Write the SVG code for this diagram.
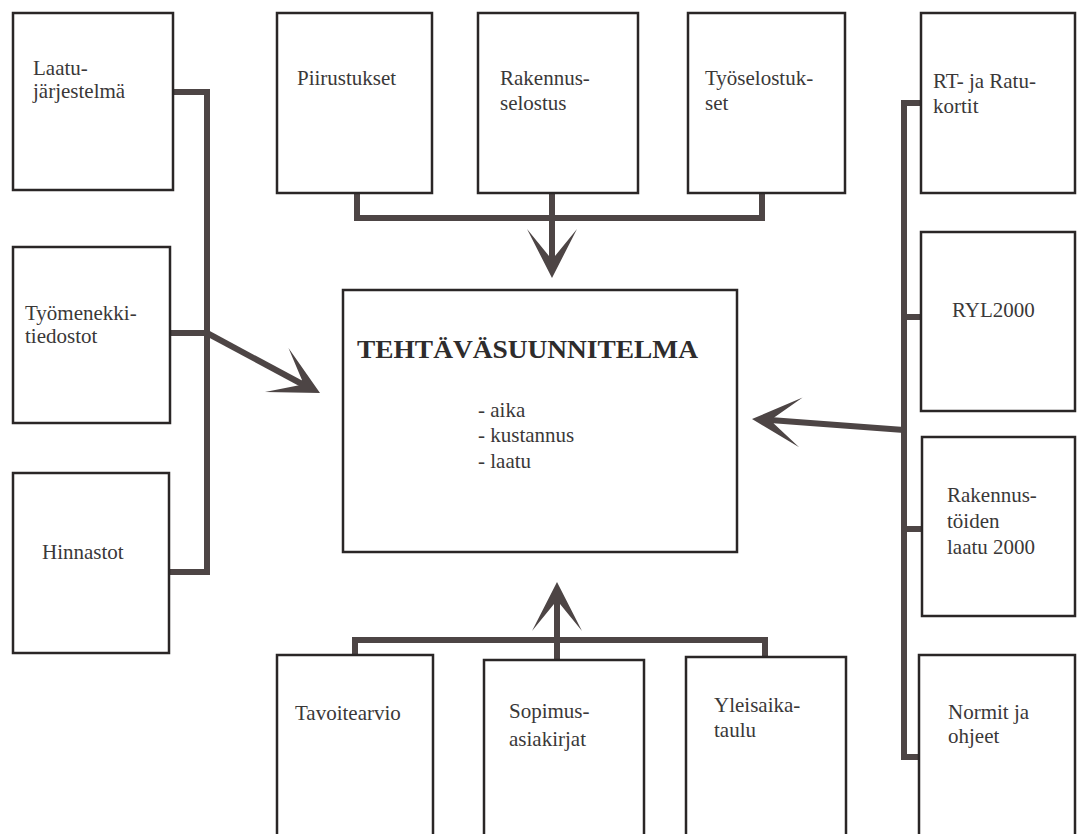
<svg xmlns="http://www.w3.org/2000/svg" width="1078" height="834" viewBox="0 0 1078 834">
<style>
.box{fill:#ffffff;stroke:#2a2626;stroke-width:2.5}
text{font-family:'Liberation Serif','DejaVu Serif',serif}
.t{font-size:21px;fill:#3a3838}
.title{font-size:26px;font-weight:bold;fill:#2e2c2c}
.c{fill:none;stroke:#4d4545;stroke-width:6;stroke-linejoin:miter;stroke-linecap:butt}
.ah{fill:#4d4545}
</style>
<defs>
<polygon id="head" points="0,0 -49,-25 -22,-3 -22,3 -49,25"/>
</defs>
<rect width="1078" height="834" fill="#ffffff"/>
<g id="connectors">
<polyline class="c" points="173,92 207,92 207,572 169,572"/>
<line class="c" x1="170" y1="333" x2="207" y2="333"/>
<line class="c" x1="207" y1="333" x2="302" y2="384"/>
<use href="#head" class="ah" transform="translate(320,393) rotate(28)"/>
<polyline class="c" points="357,193 357,218 762,218 762,193"/>
<line class="c" x1="552" y1="193" x2="552" y2="262"/>
<use href="#head" class="ah" transform="translate(552,278) rotate(90)"/>
<polyline class="c" points="921,103 904,103 904,757 921,757"/>
<line class="c" x1="904" y1="317" x2="921" y2="317"/>
<line class="c" x1="904" y1="529" x2="921" y2="529"/>
<line class="c" x1="904" y1="430" x2="770" y2="420"/>
<use href="#head" class="ah" transform="translate(752,419) rotate(184)"/>
<polyline class="c" points="355,655 355,640 765,640 765,657"/>
<line class="c" x1="557" y1="660" x2="557" y2="598"/>
<use href="#head" class="ah" transform="translate(557,582) rotate(-90)"/>
</g>
<g id="n-laatu"><rect class="box" x="13" y="13" width="160" height="177"/>
<text class="t" x="33" y="75">Laatu-</text><text class="t" x="33" y="98">järjestelmä</text></g>
<g id="n-tyomenekki"><rect class="box" x="13" y="247" width="157" height="176"/>
<text class="t" x="25" y="320">Työmenekki-</text><text class="t" x="25" y="343">tiedostot</text></g>
<g id="n-hinnastot"><rect class="box" x="13" y="473" width="156" height="180"/>
<text class="t" x="42" y="559">Hinnastot</text></g>
<g id="n-piirustukset"><rect class="box" x="277" y="13" width="155" height="180"/>
<text class="t" x="297" y="85">Piirustukset</text></g>
<g id="n-rakennusselostus"><rect class="box" x="478" y="13" width="160" height="180"/>
<text class="t" x="500" y="85">Rakennus-</text><text class="t" x="500" y="110">selostus</text></g>
<g id="n-tyoselostukset"><rect class="box" x="688" y="13" width="157" height="180"/>
<text class="t" x="705" y="85">Työselostuk-</text><text class="t" x="705" y="110">set</text></g>
<g id="n-center"><rect class="box" x="343" y="290" width="394" height="262"/>
<text class="title" x="357" y="358" textLength="341" lengthAdjust="spacingAndGlyphs">TEHTÄVÄSUUNNITELMA</text>
<text class="t" x="478" y="417">- aika</text>
<text class="t" x="478" y="442">- kustannus</text>
<text class="t" x="478" y="468">- laatu</text></g>
<g id="n-rt"><rect class="box" x="921" y="13" width="154" height="180"/>
<text class="t" x="933" y="88">RT- ja Ratu-</text><text class="t" x="933" y="113">kortit</text></g>
<g id="n-ryl"><rect class="box" x="921" y="232" width="154" height="179"/>
<text class="t" x="952" y="317">RYL2000</text></g>
<g id="n-rakennustoiden"><rect class="box" x="922" y="437" width="153" height="179"/>
<text class="t" x="947" y="502">Rakennus-</text><text class="t" x="947" y="528">töiden</text><text class="t" x="947" y="554">laatu 2000</text></g>
<g id="n-normit"><rect class="box" x="919" y="655" width="156" height="190"/>
<text class="t" x="948" y="719">Normit ja</text><text class="t" x="948" y="743">ohjeet</text></g>
<g id="n-tavoitearvio"><rect class="box" x="277" y="655" width="156" height="190"/>
<text class="t" x="295" y="720">Tavoitearvio</text></g>
<g id="n-sopimus"><rect class="box" x="484" y="660" width="160" height="190"/>
<text class="t" x="509" y="718">Sopimus-</text><text class="t" x="509" y="746">asiakirjat</text></g>
<g id="n-yleisaikataulu"><rect class="box" x="686" y="657" width="160" height="190"/>
<text class="t" x="714" y="712">Yleisaika-</text><text class="t" x="714" y="737">taulu</text></g>
</svg>
